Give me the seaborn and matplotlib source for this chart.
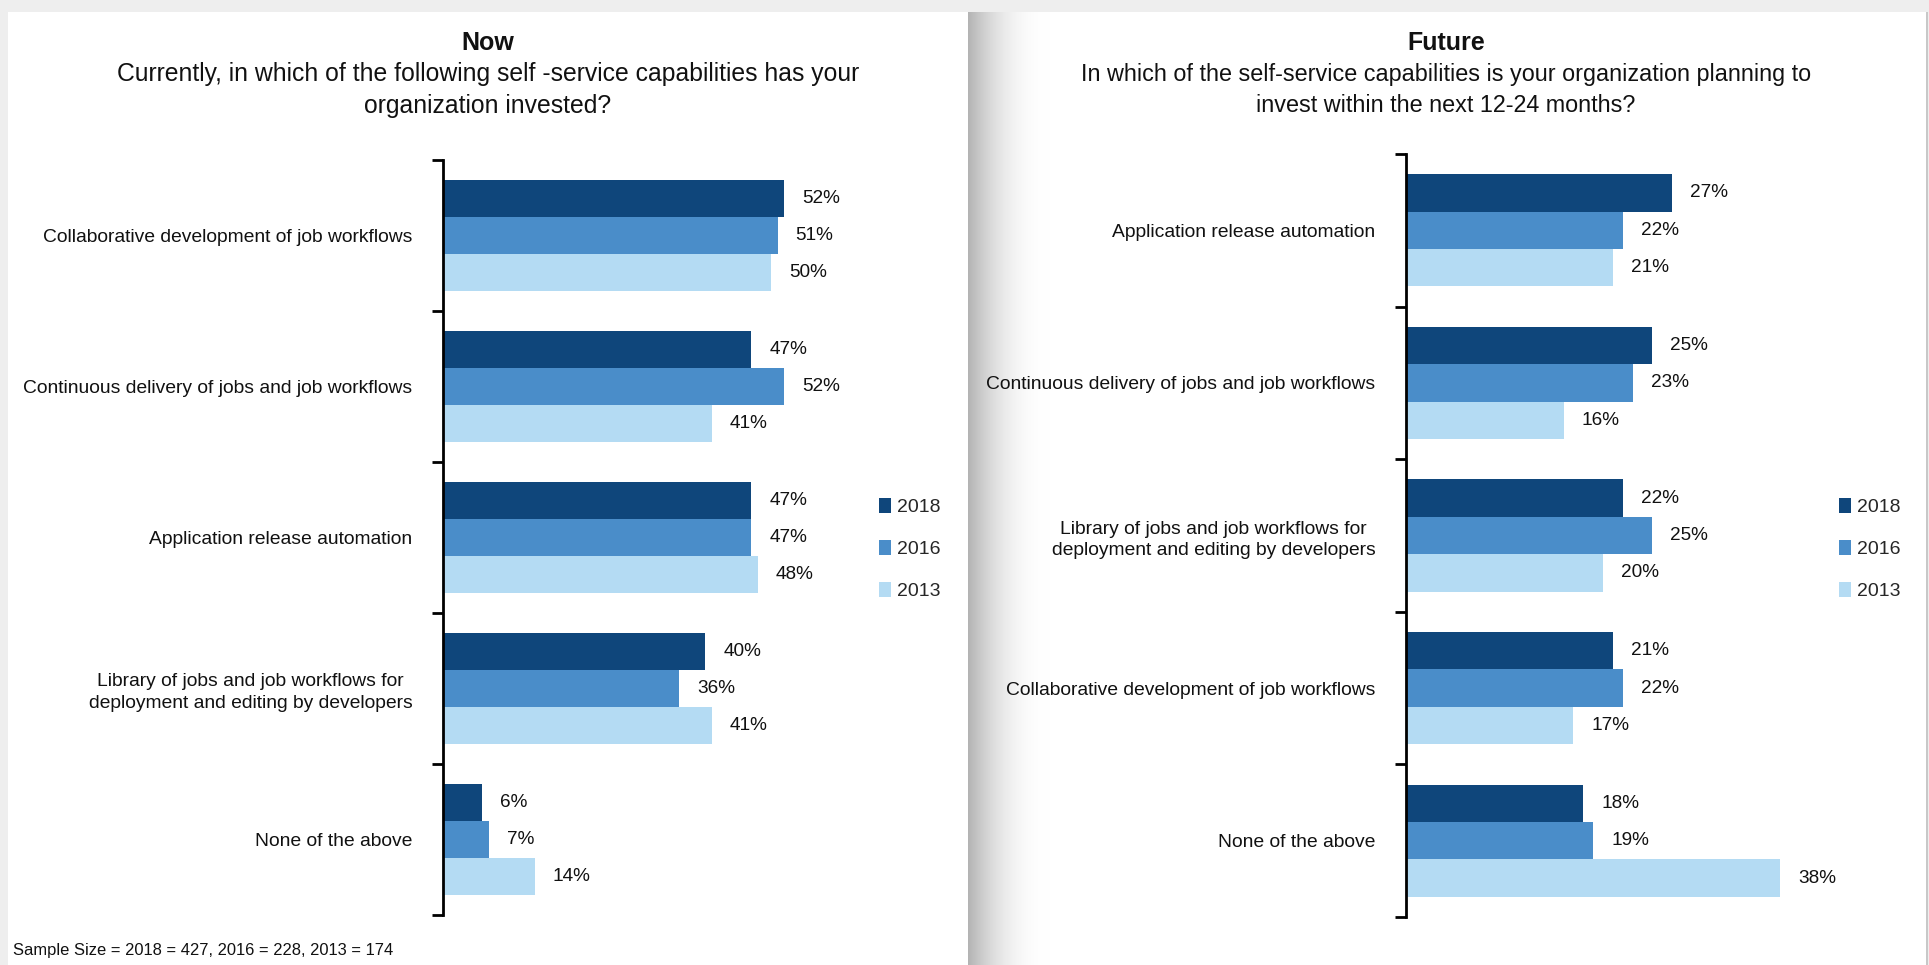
import numpy as np
import pandas as pd
import matplotlib
matplotlib.use("Agg")
import matplotlib.pyplot as plt
import seaborn as sns
from matplotlib.patches import Rectangle, Patch

# ---------------- data ----------------
years = ["2018", "2016", "2013"]
colors = ["#0f467b", "#4a8dc9", "#b4dbf3"]

now_categories = [
    "Collaborative development of job workflows",
    "Continuous delivery of jobs and job workflows",
    "Application release automation",
    "Library of jobs and job workflows for\ndeployment and editing by developers",
    "None of the above",
]
now_2018 = [52, 47, 47, 40, 6]
now_2016 = [51, 52, 47, 36, 7]
now_2013 = [50, 41, 48, 41, 14]

future_categories = [
    "Application release automation",
    "Continuous delivery of jobs and job workflows",
    "Library of jobs and job workflows for\ndeployment and editing by developers",
    "Collaborative development of job workflows",
    "None of the above",
]
future_2018 = [27, 25, 22, 21, 18]
future_2016 = [22, 23, 25, 22, 19]
future_2013 = [21, 16, 20, 17, 38]

now_title = "Now"
now_subtitle = "Currently, in which of the following self -service capabilities has your\norganization invested?"
future_title = "Future"
future_subtitle = "In which of the self-service capabilities is your organization planning to\ninvest within the next 12-24 months?"
footnote = "Sample Size = 2018 = 427, 2016 = 228, 2013 = 174"


def long_df(cats, s18, s16, s13):
    rows = []
    for yr, vals in zip(years, [s18, s16, s13]):
        for c, v in zip(cats, vals):
            rows.append({"category": c, "year": yr, "value": v})
    return pd.DataFrame(rows)


now_df = long_df(now_categories, now_2018, now_2016, now_2013)
future_df = long_df(future_categories, future_2018, future_2016, future_2013)

# ---------------- style ----------------
sns.set_theme(style="white")
plt.rcParams["font.family"] = ["Liberation Sans", "DejaVu Sans"]

TXT = "#111111"
W, H = 1929, 965
fig = plt.figure(figsize=(W / 100, H / 100), dpi=100)
fig.patch.set_facecolor("#eeeeee")


def px_rect(x0, y0, x1, y1):
    return [x0 / W, 1 - y1 / H, (x1 - x0) / W, (y1 - y0) / H]


# white panels + shadow
bg = fig.add_axes([0, 0, 1, 1], zorder=-10)
bg.add_patch(Rectangle((8, 12), 961, H - 12, facecolor="white", edgecolor="none"))
bg.add_patch(Rectangle((968, 12), 958, H - 12, facecolor="white", edgecolor="none"))
bg.add_patch(Rectangle((1926, 12), 2, H - 12, facecolor="#c8c8c8", edgecolor="none"))
t = np.linspace(0, 1, 256)
shade = 0.70 + 0.30 * (1 - (1 - t) ** 2.2)
img = np.dstack([np.tile(shade, (10, 1))] * 3)
bg.imshow(img, extent=(968, 1050, H, 12), aspect="auto", zorder=1,
          interpolation="bilinear")
bg.set_xlim(0, W)
bg.set_ylim(H, 0)
bg.axis("off")


def panel(df, cats, box, xmax, legend_xy, title, subtitle, title_x, sub_size):
    ax = fig.add_axes(px_rect(*box))
    sns.barplot(data=df, y="category", x="value", hue="year", order=cats,
                hue_order=years, palette=colors, saturation=1, orient="h",
                width=0.735, linewidth=0, ax=ax, legend=False)
    ax.set_xlim(0, xmax)
    ax.set_ylim(len(cats) - 0.5, -0.5)
    ax.set_facecolor("none")
    for c in ax.containers:
        ax.bar_label(c, labels=[f"{v:.0f}%" for v in c.datavalues], padding=13,
                     fontsize=13.7, color=TXT)
    for s in ["top", "right", "bottom"]:
        ax.spines[s].set_visible(False)
    ax.spines["left"].set_linewidth(2)
    ax.spines["left"].set_color("black")
    ax.set_xticks([])
    ax.set_xlabel("")
    ax.set_ylabel("")
    ax.set_yticks(range(len(cats)))
    ax.set_yticklabels(cats, fontsize=13.9, multialignment="center", color=TXT,
                       linespacing=1.35)
    ax.tick_params(axis="y", which="major", length=0, pad=22)
    ax.set_yticks(np.arange(-0.5, len(cats), 1), minor=True)
    ax.tick_params(axis="y", which="minor", length=8, width=2, direction="out",
                   color="black", left=True)
    handles = [Patch(facecolor=col, edgecolor="none", label=yr)
               for yr, col in zip(years, colors)]
    fig.legend(handles=handles, loc="center left",
               bbox_to_anchor=(legend_xy[0] / W, 1 - legend_xy[1] / H),
               frameon=False, fontsize=14, handlelength=0.6, handleheight=0.85,
               handletextpad=0.3, labelspacing=1.2, borderaxespad=0, borderpad=0)
    fig.text(title_x / W, 1 - 43 / H, title, ha="center", va="center",
             fontsize=18, fontweight="bold", color=TXT)
    fig.text(title_x / W, 1 - 90 / H, subtitle, ha="center", va="center",
             fontsize=sub_size, linespacing=1.4, color=TXT)
    return ax


panel(now_df, now_categories, (443, 160, 830, 915), (830 - 443) / 6.56,
      (879, 549), now_title, now_subtitle, 488, 17.8)
panel(future_df, future_categories, (1406, 154, 1800, 917), (1800 - 1406) / 9.85,
      (1839, 549), future_title, future_subtitle, 1446, 16.8)

fig.text(13 / W, 1 - 950 / H, footnote, ha="left", va="center", fontsize=11.9,
         color=TXT)

fig.savefig("out.png", dpi=100, facecolor=fig.get_facecolor())
